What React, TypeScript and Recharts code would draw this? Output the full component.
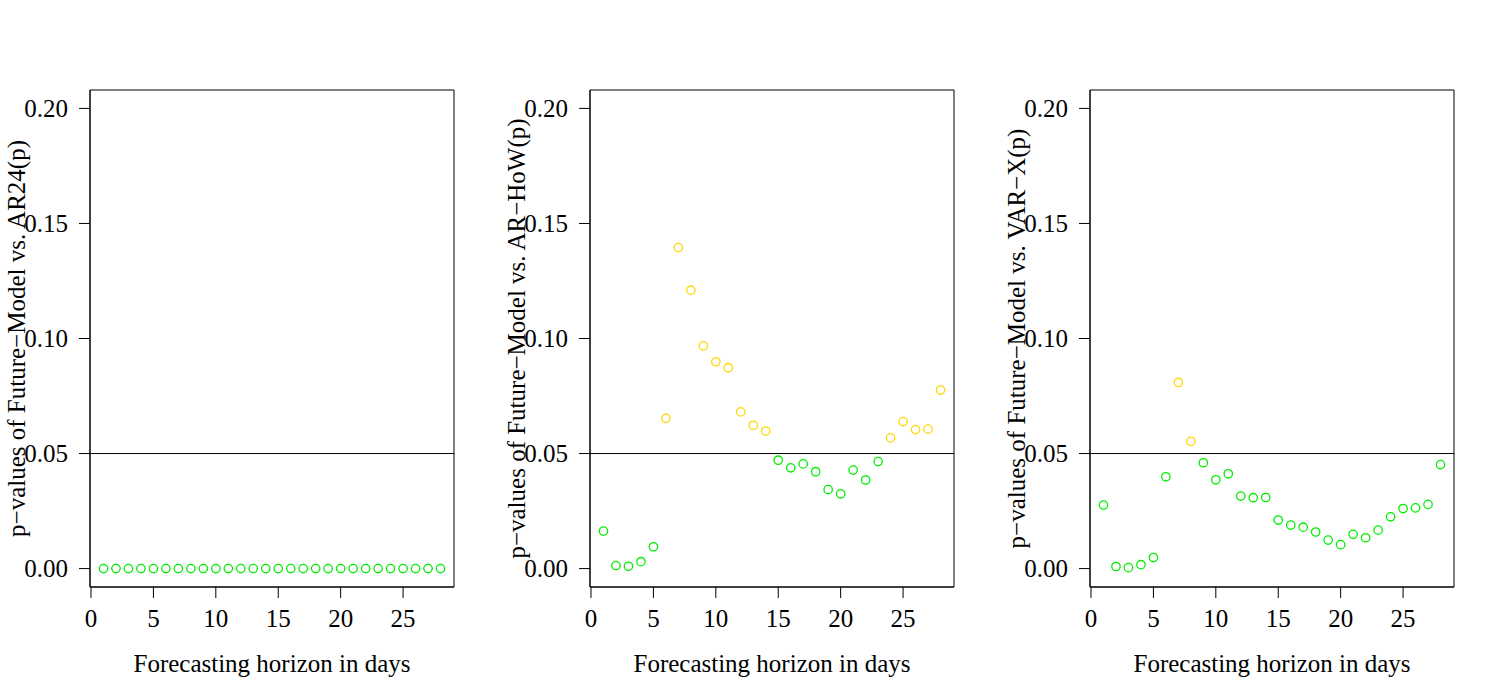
import React from 'react';
import {
  ScatterChart, Scatter, XAxis, YAxis, ReferenceLine, ReferenceArea,
} from 'recharts';

const days = [1, 2, 3, 4, 5, 6, 7, 8, 9, 10, 11, 12, 13, 14, 15, 16, 17, 18, 19, 20, 21, 22, 23, 24, 25, 26, 27, 28];

const pAR24 = [0, 0, 0, 0, 0, 0, 0, 0, 0, 0, 0, 0, 0, 0, 0, 0, 0, 0, 0, 0, 0, 0, 0, 0, 0, 0, 0, 0];

const pARHoW = [
  0.0163, 0.0013, 0.0010, 0.0030, 0.0095, 0.0653, 0.1395, 0.1210, 0.0968, 0.0899,
  0.0873, 0.0681, 0.0623, 0.0598, 0.0471, 0.0438, 0.0455, 0.0421, 0.0343, 0.0325,
  0.0428, 0.0385, 0.0465, 0.0568, 0.0639, 0.0604, 0.0606, 0.0776,
];

const pVARX = [
  0.0276, 0.0009, 0.0004, 0.0017, 0.0048, 0.0399, 0.0809, 0.0553, 0.0460, 0.0386,
  0.0412, 0.0315, 0.0308, 0.0309, 0.0211, 0.0189, 0.0180, 0.0159, 0.0124, 0.0104,
  0.0149, 0.0134, 0.0167, 0.0225, 0.0261, 0.0264, 0.0279, 0.0452,
];

const xTicks = [0, 5, 10, 15, 20, 25];
const yTicks = [0, 0.05, 0.1, 0.15, 0.2];
const THRESHOLD = 0.05;

// R-style 4% padding around the data range
const X_DOMAIN: [number, number] = [-0.08, 29.08];
const Y_DOMAIN: [number, number] = [-0.008, 0.208];

const FONT = '"Liberation Serif", "Times New Roman", serif';
const FONT_SIZE = 25;
const GREEN = '#00ee00';
const GOLD = '#ffd700';

interface PanelProps {
  values: number[];
  ylabel: string;
}

function Dot(props: any) {
  const { cx, cy, payload } = props;
  if (cx == null || cy == null) return null;
  const color = payload.p >= THRESHOLD ? GOLD : GREEN;
  return <circle cx={cx} cy={cy} r={4.2} fill="none" stroke={color} strokeWidth={1.3} />;
}

function YLabel({ viewBox, value }: any) {
  const x = viewBox.x + viewBox.width - 65;
  const y = viewBox.y + viewBox.height / 2;
  return (
    <text
      x={x}
      y={y}
      transform={`rotate(-90 ${x} ${y})`}
      textAnchor="middle"
      fill="#000"
      fontSize={FONT_SIZE}
      fontFamily={FONT}
    >
      {value}
    </text>
  );
}

function Panel({ values, ylabel }: PanelProps) {
  const data = days.map((d, i) => ({ day: d, p: values[i] }));
  const tickStyle = { fill: '#000', fontSize: FONT_SIZE, fontFamily: FONT };

  return (
    <ScatterChart width={500} height={700} margin={{ top: 90, right: 46, bottom: 0, left: 30 }}>
      <XAxis
        type="number"
        dataKey="day"
        domain={X_DOMAIN}
        ticks={xTicks}
        allowDataOverflow
        height={113}
        tickSize={11}
        tickMargin={11}
        stroke="#000"
        tick={tickStyle}
        label={{
          value: 'Forecasting horizon in days',
          position: 'insideBottom',
          offset: 28,
          fill: '#000',
          fontSize: FONT_SIZE,
          fontFamily: FONT,
        }}
      />
      <YAxis
        type="number"
        dataKey="p"
        domain={Y_DOMAIN}
        ticks={yTicks}
        allowDataOverflow
        width={60}
        tickSize={11}
        tickMargin={11}
        stroke="#000"
        tick={tickStyle}
        tickFormatter={(v: number) => v.toFixed(2)}
        label={<YLabel value={ylabel} />}
      />
      <ReferenceArea
        x1={X_DOMAIN[0]}
        x2={X_DOMAIN[1]}
        y1={Y_DOMAIN[0]}
        y2={Y_DOMAIN[1]}
        fill="none"
        fillOpacity={0}
        stroke="#000"
        strokeWidth={1}
      />
      <ReferenceLine y={THRESHOLD} stroke="#000" strokeWidth={1} />
      <Scatter data={data} shape={<Dot />} isAnimationActive={false} />
    </ScatterChart>
  );
}

export default function App() {
  return (
    <div
      style={{
        position: 'absolute',
        left: 0,
        top: 0,
        width: 1500,
        height: 700,
        display: 'flex',
        background: '#fff',
      }}
    >
      <Panel values={pAR24} ylabel="p−values of Future−Model vs. AR24(p)" />
      <Panel values={pARHoW} ylabel="p−values of Future−Model vs. AR−HoW(p)" />
      <Panel values={pVARX} ylabel="p−values of Future−Model vs. VAR−X(p)" />
    </div>
  );
}
